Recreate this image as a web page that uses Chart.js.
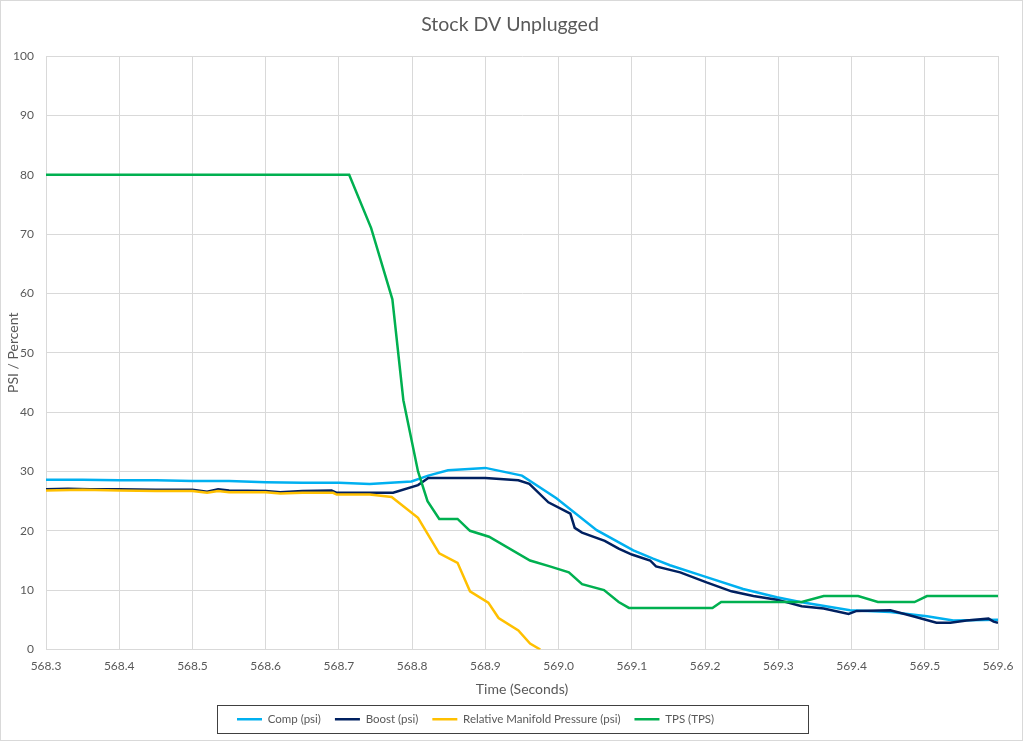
<!DOCTYPE html>
<html>
<head>
<meta charset="utf-8">
<script src="https://cdn.jsdelivr.net/npm/chart.js@4/dist/chart.umd.min.js"></script>
<style>
html,body{margin:0;padding:0;background:#fff;}
#wrap{width:1024px;height:742px;}
canvas{display:block;}
</style>
</head>
<body>
<div id="wrap"><canvas id="c" width="1024" height="742"></canvas></div>
<script>
// ---- Data ----
const chartTitle = 'Stock DV Unplugged';
const xTitle = 'Time (Seconds)';
const yTitle = 'PSI / Percent';
const seriesNames = ['Comp (psi)', 'Boost (psi)', 'Relative Manifold Pressure (psi)', 'TPS (TPS)'];
const seriesColors = ['#00B0F0', '#002060', '#FFC000', '#00B050'];

const compTime = [568.3, 568.35, 568.4, 568.45, 568.5, 568.55, 568.6, 568.65, 568.7, 568.742, 568.799, 568.822, 568.849, 568.9, 568.95, 568.997, 569.052, 569.102, 569.129, 569.152, 569.202, 569.252, 569.298, 569.33, 569.398, 569.453, 569.503, 569.539, 569.6];
const compPsi  = [28.6, 28.6, 28.5, 28.5, 28.4, 28.4, 28.2, 28.1, 28.1, 27.9, 28.3, 29.3, 30.2, 30.6, 29.3, 25.5, 20.1, 16.7, 15.3, 14.2, 12.2, 10.2, 8.8, 8.0, 6.6, 6.3, 5.6, 4.9, 5.0];

const boostTime = [568.3, 568.33, 568.36, 568.4, 568.45, 568.5, 568.52, 568.535, 568.55, 568.6, 568.62, 568.65, 568.69, 568.697, 568.774, 568.808, 568.822, 568.9, 568.945, 568.96, 568.986, 569.016, 569.022, 569.032, 569.063, 569.082, 569.1, 569.125, 569.133, 569.166, 569.202, 569.236, 569.266, 569.298, 569.332, 569.362, 569.396, 569.407, 569.453, 569.484, 569.516, 569.535, 569.557, 569.587, 569.594, 569.6];
const boostPsi  = [27.0, 27.1, 27.0, 27.0, 26.9, 26.9, 26.6, 27.0, 26.8, 26.7, 26.5, 26.7, 26.8, 26.4, 26.4, 27.7, 28.9, 28.9, 28.5, 27.9, 24.8, 22.9, 20.5, 19.7, 18.3, 17.0, 16.0, 15.0, 14.0, 13.0, 11.3, 9.8, 9.0, 8.4, 7.3, 6.9, 6.0, 6.5, 6.6, 5.6, 4.5, 4.5, 4.9, 5.2, 4.7, 4.5];

const rmpTime = [568.3, 568.35, 568.4, 568.45, 568.5, 568.52, 568.535, 568.55, 568.6, 568.62, 568.65, 568.692, 568.697, 568.742, 568.772, 568.808, 568.837, 568.862, 568.879, 568.904, 568.918, 568.945, 568.961, 568.975];
const rmpPsi  = [26.8, 26.9, 26.8, 26.7, 26.7, 26.4, 26.7, 26.5, 26.5, 26.3, 26.4, 26.4, 26.1, 26.1, 25.7, 22.2, 16.2, 14.6, 9.8, 7.9, 5.3, 3.2, 1.0, 0.0];

const tpsTime = [568.3, 568.714, 568.744, 568.773, 568.788, 568.808, 568.821, 568.837, 568.862, 568.879, 568.905, 568.961, 568.988, 569.014, 569.032, 569.062, 569.082, 569.096, 569.21, 569.222, 569.332, 569.362, 569.409, 569.436, 569.486, 569.503, 569.6];
const tpsVal  = [80, 80, 71, 59, 42, 30, 25, 22, 22, 20, 19, 15, 14, 13, 11, 10, 8, 7, 7, 8, 8, 9, 9, 8, 8, 9, 9];

const xMin = 568.3, xMax = 569.6, xStep = 0.1;
const yMin = 0, yMax = 100, yStep = 10;

// ---- Chart ----
const FONT = 'Lato';
const TEXT = '#595959';
const GRID = '#D9D9D9';

function pts(xs, ys) { return xs.map((x, i) => ({x: x, y: ys[i]})); }

const series = [pts(compTime, compPsi), pts(boostTime, boostPsi), pts(rmpTime, rmpPsi), pts(tpsTime, tpsVal)];

const LEGEND_BOX_W = 591;
const frame = {
  id: 'frame',
  beforeDraw(chart) {
    const tb = chart.titleBlock;
    if (tb) {
      tb.left = 0;
      tb.right = chart.width - 4;
      tb.width = tb.right - tb.left;
    }
    const lg = chart.legend;
    if (lg) {
      const boxLeft = Math.round(chart.width / 2 - LEGEND_BOX_W / 2);
      lg.left = boxLeft + 6;
      lg.right = boxLeft + LEGEND_BOX_W;
      lg.width = lg.right - lg.left;
      const textCenter = 719;
      lg.top = textCenter - lg.options.labels.padding - 5.5;
    }
  },
  afterDraw(chart) {
    const ctx = chart.ctx;
    ctx.save();
    ctx.lineWidth = 1;
    ctx.strokeStyle = GRID;
    ctx.strokeRect(0.5, 0.5, chart.width - 2, chart.height - 2);
    const lg = chart.legend;
    if (lg) {
      const boxLeft = Math.round(chart.width / 2 - LEGEND_BOX_W / 2);
      ctx.strokeStyle = '#404040';
      ctx.strokeRect(boxLeft + 0.5, 705.5, LEGEND_BOX_W, 28);
    }
    ctx.restore();
  }
};

function draw() {
  new Chart(document.getElementById('c'), {
    type: 'line',
    data: {
      datasets: series.map((d, i) => ({
        label: seriesNames[i],
        data: d,
        borderColor: seriesColors[i],
        backgroundColor: seriesColors[i],
        borderWidth: 2.5,
        pointRadius: 0,
        tension: 0,
        fill: false,
        order: 4 - i
      }))
    },
    options: {
      responsive: false,
      animation: false,
      devicePixelRatio: 1,
      layout: { padding: { left: 0, right: 26, top: 0, bottom: 0 } },
      scales: {
        x: {
          type: 'linear',
          min: xMin, max: xMax,
          afterFit: (s) => { s.height = 57; },
          ticks: {
            stepSize: xStep,
            padding: 9,
            color: TEXT,
            font: { family: FONT, size: 12 },
            maxRotation: 0,
            callback: (v) => Number(v).toFixed(1)
          },
          grid: { color: GRID, drawTicks: false, lineWidth: 1 },
          border: { color: GRID },
          title: { display: true, text: xTitle, color: TEXT, font: { family: FONT, size: 14 }, padding: { top: 0, bottom: 8.6 } }
        },
        y: {
          min: yMin, max: yMax,
          afterFit: (s) => { s.width = 46; },
          ticks: {
            stepSize: yStep,
            padding: 12,
            color: TEXT,
            font: { family: FONT, size: 12 }
          },
          grid: { color: GRID, drawTicks: false, lineWidth: 1 },
          border: { color: GRID },
          title: { display: true, text: yTitle, color: TEXT, font: { family: FONT, size: 14 }, padding: { top: 4.6, bottom: 0 } }
        }
      },
      plugins: {
        title: {
          display: true,
          text: chartTitle,
          color: TEXT,
          font: { family: FONT, size: 19.5, weight: 'normal' },
          padding: { top: 13.5, bottom: 19.1 }
        },
        legend: {
          position: 'bottom',
          align: 'start',
          labels: {
            usePointStyle: true,
            pointStyle: 'line',
            pointStyleWidth: 25,
            padding: 14,
            color: TEXT,
            font: { family: FONT, size: 11.5 },
            sort: (a, b) => a.datasetIndex - b.datasetIndex
          }
        },
        tooltip: { enabled: false }
      }
    },
    plugins: [frame]
  });
}

if (document.fonts && document.fonts.load) {
  document.fonts.load('12px Lato').then(draw, draw);
} else {
  draw();
}
</script>
</body>
</html>
